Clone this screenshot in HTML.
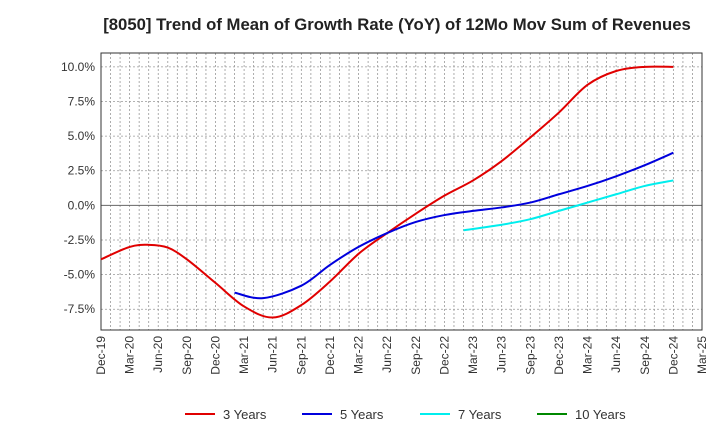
<!DOCTYPE html>
<html><head><meta charset="utf-8"><style>
body{margin:0;background:#fff;font-family:"Liberation Sans",sans-serif}
svg text{font-family:"Liberation Sans",sans-serif}
</style></head><body>
<svg id="c" width="720" height="440" xmlns="http://www.w3.org/2000/svg">
<text x="397" y="30" text-anchor="middle" font-size="16.7" font-weight="bold" fill="#222">[8050]  Trend of Mean of Growth Rate (YoY) of 12Mo Mov Sum of Revenues</text>
<g id="grid"></g><g id="axes"></g><g id="series"></g><g id="legend"></g>
</svg>
<script>
const xLabels=["Dec-19","Mar-20","Jun-20","Sep-20","Dec-20","Mar-21","Jun-21","Sep-21","Dec-21","Mar-22","Jun-22","Sep-22","Dec-22","Mar-23","Jun-23","Sep-23","Dec-23","Mar-24","Jun-24","Sep-24","Dec-24","Mar-25"];
const yTicks=[10,7.5,5,2.5,0,-2.5,-5,-7.5];
const seriesNames=["3 Years","5 Years","7 Years","10 Years"];
const seriesColors=["#e00000","#0000dd","#00eeee","#008800"];
const m3=[0,3,5,7,9,12,15,18,21,24,27,30,33,36,39,42,45,48,51,54,57,60];
const v3=[-3.9,-3.0,-2.85,-3.05,-3.9,-5.6,-7.3,-8.1,-7.2,-5.5,-3.5,-2.0,-0.6,0.7,1.8,3.2,4.9,6.7,8.7,9.7,10.0,10.0];
const m5=[14,17,21,24,27,30,33,36,39,42,45,48,51,54,57,60];
const v5=[-6.3,-6.7,-5.8,-4.3,-3.0,-2.0,-1.2,-0.7,-0.4,-0.15,0.2,0.8,1.4,2.1,2.9,3.8];
const m7=[38,42,45,48,51,54,57,60];
const v7=[-1.8,-1.4,-1.0,-0.4,0.2,0.8,1.4,1.8];
const m10=[];const v10=[];
const L=101,R=702,T=53,B=330,yMin=-9,yMax=11,months=63;
const X=m=>L+(R-L)*m/months;
const Y=v=>B-(B-T)*(v-yMin)/(yMax-yMin);
const NS="http://www.w3.org/2000/svg";
function mk(t,a,p){const e=document.createElementNS(NS,t);for(const k in a)e.setAttribute(k,a[k]);p.appendChild(e);return e;}
const g=document.getElementById('grid'),ax=document.getElementById('axes'),sg=document.getElementById('series'),lg=document.getElementById('legend');
for(let m=1;m<months;m++){const l=mk('line',{x1:X(m),x2:X(m),y1:T,y2:B,stroke:'#999','stroke-width':0.8,'stroke-dasharray':'2,2'},g);

}
yTicks.forEach(v=>{const l=mk('line',{x1:L,x2:R,y1:Y(v),y2:Y(v),stroke:v===0?'#666':'#999','stroke-width':v===0?1:0.8,'stroke-dasharray':v===0?'none':'2,2'},g);


const t=mk('text',{x:L-6,y:Y(v)+4,'text-anchor':'end','font-size':12,fill:'#333'},ax);t.textContent=v.toFixed(1)+'%';

});
const fr=mk('rect',{x:L,y:T,width:R-L,height:B-T,fill:'none',stroke:'#333','stroke-width':1},ax);


xLabels.forEach((s,i)=>{const x=X(i*3);const t=mk('text',{x:0,y:0,'text-anchor':'end','font-size':12,fill:'#333',transform:`translate(${x+4},${B+6}) rotate(-90)`},ax);t.textContent=s;

});
function path(ms,vs){const p=ms.map((m,i)=>[X(m),Y(vs[i])]);if(!p.length)return '';let d=`M${p[0][0]},${p[0][1]}`;
for(let i=0;i<p.length-1;i++){const p0=p[i-1]||p[i],p1=p[i],p2=p[i+1],p3=p[i+2]||p2;
d+=` C${p1[0]+(p2[0]-p0[0])/6},${p1[1]+(p2[1]-p0[1])/6} ${p2[0]-(p3[0]-p1[0])/6},${p2[1]-(p3[1]-p1[1])/6} ${p2[0]},${p2[1]}`;}return d;}
[[m3,v3],[m5,v5],[m7,v7],[m10,v10]].forEach((s,i)=>{if(!s[0].length)return;const p=mk('path',{d:path(s[0],s[1]),fill:'none',stroke:seriesColors[i],'stroke-width':2},sg);

});
const lx=[185,302,420,537];
seriesNames.forEach((n,i)=>{const gg=mk('g',{},lg);


mk('line',{x1:lx[i],x2:lx[i]+30,y1:414,y2:414,stroke:seriesColors[i],'stroke-width':2},gg);
const t=mk('text',{x:lx[i]+38,y:419,'font-size':13,fill:'#333'},gg);t.textContent=n;});
</script>
</body></html>
